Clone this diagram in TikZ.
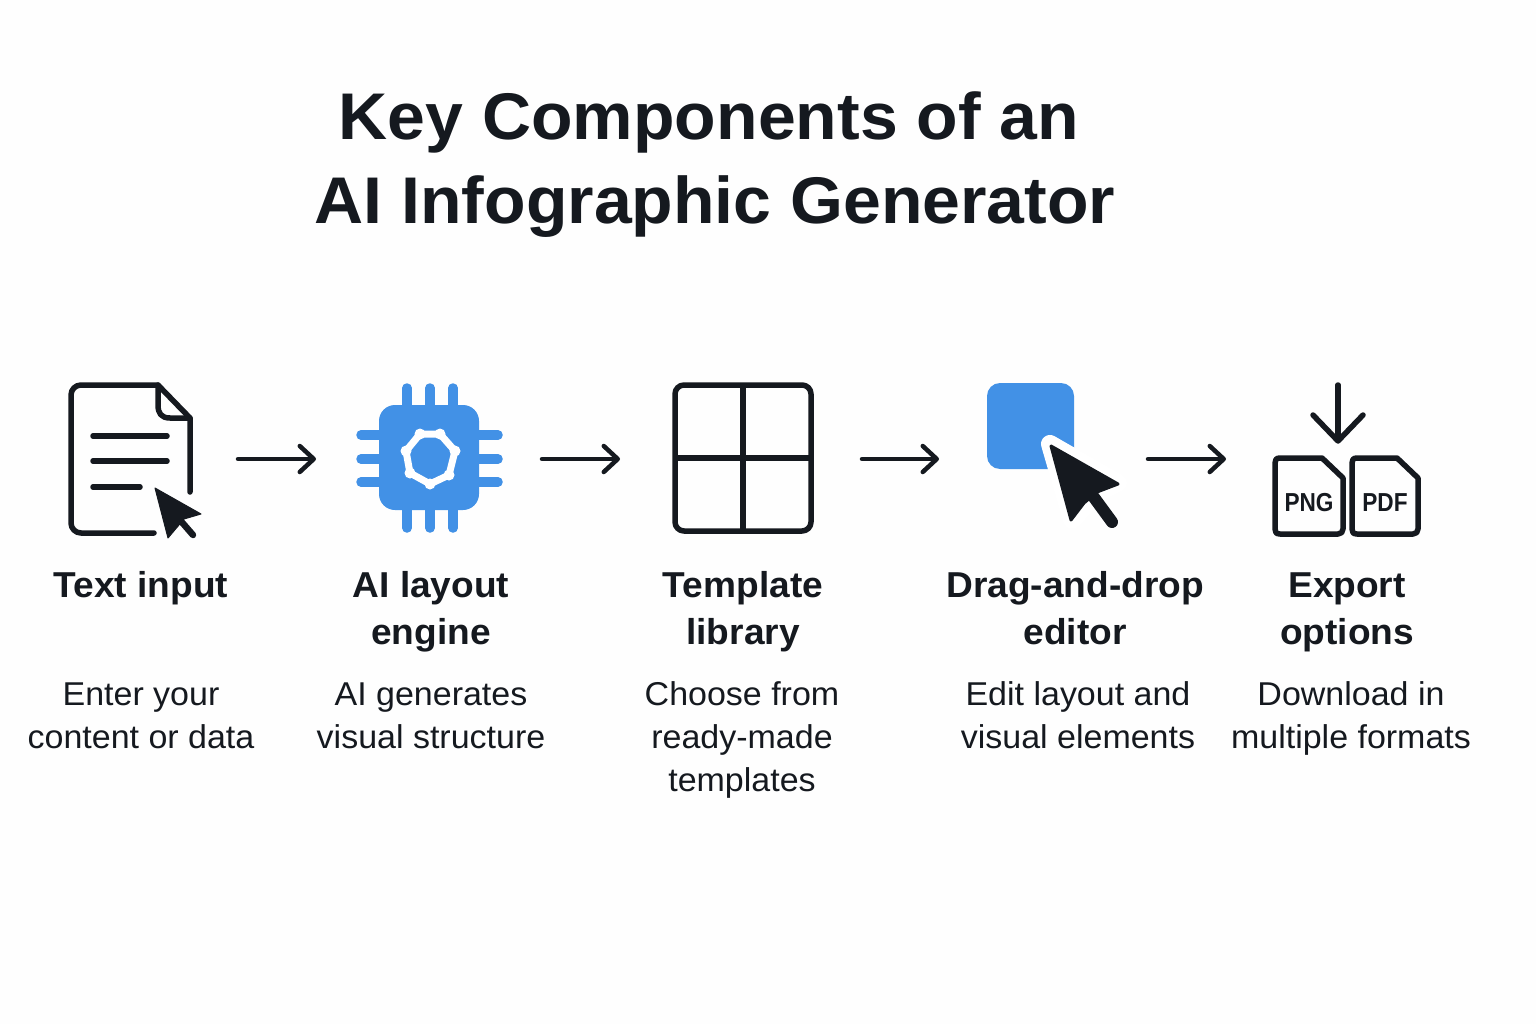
\documentclass[tikz,border=0pt]{standalone}
\usepackage{fontspec}
\usetikzlibrary{arrows.meta}
\setmainfont{Liberation Sans}
\newfontfamily\heavyfont[FakeStretch=1.03]{Liberation Sans}
\definecolor{ink}{HTML}{15191F}
\definecolor{chipblue}{HTML}{4291E6}
\tikzset{
  x=1pt,y=-1pt,
  iconline/.style={draw=ink,line width=5.5pt,line cap=round,line join=round},
  iconbox/.style={inner sep=0pt,outer sep=0pt,minimum height=20pt,anchor=west},
  flow/.style={draw=ink,line width=4.5pt,line cap=round,-{Straight Barb[length=14pt,width=26pt,round]}},
  headline/.style={font=\heavyfont\bfseries\fontsize{66}{84}\selectfont,text=ink,align=center,anchor=base},
  steptitle/.style={font=\heavyfont\bfseries\fontsize{36}{47}\selectfont,text=ink,align=center,anchor=base},
  stepbody/.style={font=\heavyfont\fontsize{33}{43}\selectfont,text=ink,align=center,anchor=base},
  pin/.style={draw=chipblue,line width=9.5pt,line cap=round},
  filetag/.style={font=\bfseries\fontsize{26}{26}\selectfont,text=ink,anchor=base}
}
\begin{document}
\begin{tikzpicture}
\useasboundingbox (0,0) rectangle (1536,1024);
\fill[white!99.5!black] (0,0) rectangle (1536,1024);

% title
\node[headline] (title) at (715,224) {\hspace*{-12pt}Key Components of an\\AI Infographic Generator};

% icon extents used by the connectors
\node[iconbox,minimum width=170pt] (icon1) at (68,459) {};
\node[iconbox,minimum width=226pt] (icon2) at (316,459) {};
\node[iconbox,minimum width=242pt] (icon3) at (620,459) {};
\node[iconbox,minimum width=209pt] (icon4) at (939,459) {};
\node[iconbox,minimum width=195pt] (icon5) at (1226,459) {};
\draw[flow] (icon1.east) -- (icon2.west);
\draw[flow] (icon2.east) -- (icon3.west);
\draw[flow] (icon3.east) -- (icon4.west);
\draw[flow] (icon4.east) -- (icon5.west);

% document icon
\draw[iconline] (154,533) -- (81,533) arc[start angle=90,end angle=180,radius=10] -- (71,395) arc[start angle=180,end angle=270,radius=10] -- (158,385) -- (190,418) -- (190,492);
\draw[iconline] (158,385) -- (158,405) .. controls (158,413) and (161,418) .. (170,418) -- (190,418);
\draw[iconline] (93,436) -- (167,436);
\draw[iconline] (93,461) -- (167,461);
\draw[iconline] (93,487) -- (140,487);
\fill[ink,draw=ink,line width=1pt,line join=round] (155,488) -- (201,514) -- (184,519) -- (168,538) -- cycle;
\draw[ink,line width=6.5pt,line cap=round] (180,520) -- (193,535);

% chip icon
\foreach \px in {407,430,453} \draw[pin] (\px,388) -- (\px,528);
\foreach \py in {435,459,482} \draw[pin] (361,\py) -- (498,\py);
\fill[chipblue,rounded corners=16pt] (379,405) rectangle (479,510);
\draw[white,line width=7pt,line join=round] (420,434) -- (440,434) -- (455,451) -- (449,475) -- (430,484) -- (410,473) -- (406,451) -- cycle;
\foreach \cx/\cy in {420/434,440/434,455/451,449/475,430/484,410/473,406/451} \fill[white] (\cx,\cy) circle[radius=5.5];

% template icon
\draw[iconline,rounded corners=9pt] (675,385) rectangle (811,531);
\draw[iconline,line cap=butt] (743,385) -- (743,531);
\draw[iconline,line cap=butt] (675,458) -- (811,458);

% drag icon
\fill[chipblue,rounded corners=13pt] (987,383) rectangle (1074,469);
\draw[white,fill=white,line width=18pt,line join=round] (1050,444) -- (1118,483) -- (1098,493) -- (1072,520) -- cycle;
\fill[ink,draw=ink,line width=3pt,line join=round] (1051,446) -- (1118,484) -- (1097,492) -- (1084,503) -- (1071,520) -- cycle;
\draw[ink,line width=12pt,line cap=round] (1090,492) -- (1112,522);

% export icon
\draw[iconline] (1338,385) -- (1338,440);
\draw[iconline] (1313,415) -- (1338,441) -- (1363,415);
\draw[iconline] (1322,458) -- (1280,458) .. controls (1276,458) and (1275,460) .. (1275,463) -- (1275,529) .. controls (1275,532) and (1276,534) .. (1280,534) -- (1338,534) .. controls (1341,534) and (1343,532) .. (1343,529) -- (1343,478) -- cycle;
\draw[iconline] (1397,458) -- (1357,458) .. controls (1353,458) and (1352,460) .. (1352,463) -- (1352,529) .. controls (1352,532) and (1353,534) .. (1357,534) -- (1413,534) .. controls (1416,534) and (1418,532) .. (1418,529) -- (1418,478) -- cycle;
\node[filetag] (png) at (1309,511) {\scalebox{0.87}[1]{PNG}};
\node[filetag] (pdf) at (1385,511) {\scalebox{0.87}[1]{PDF}};

% labels
\node[steptitle] (t1) at (141,597) {Text input};
\node[steptitle] (t2) at (431,644) {AI layout\\engine};
\node[steptitle] (t3) at (743,644) {Template\\library};
\node[steptitle] (t4) at (1075,644) {Drag-and-drop\\editor};
\node[steptitle] (t5) at (1347,644) {Export\\options};
\node[stepbody] (b1) at (141,748) {Enter your\\content or data};
\node[stepbody] (b2) at (431,748) {AI generates\\visual structure};
\node[stepbody] (b3) at (742,791) {Choose from\\ready-made\\templates};
\node[stepbody] (b4) at (1078,748) {Edit layout and\\visual elements};
\node[stepbody] (b5) at (1351,748) {Download in\\multiple formats};
\end{tikzpicture}
\end{document}
